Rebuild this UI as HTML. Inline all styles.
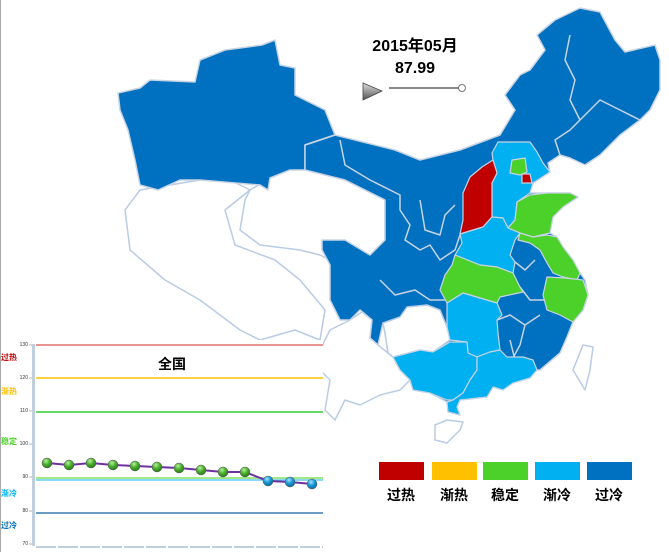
<!DOCTYPE html>
<html><head><meta charset="utf-8"><style>
body{margin:0;background:#fff;width:669px;height:552px;overflow:hidden;font-family:"Liberation Sans","Noto Sans CJK SC",sans-serif}
</style></head><body>
<svg width="669" height="552" viewBox="0 0 669 552" xmlns="http://www.w3.org/2000/svg" style="position:absolute;left:0;top:0">
<defs>
<radialGradient id="gg" cx="40%" cy="30%" r="70%"><stop offset="0" stop-color="#b8f0a0"/><stop offset="0.5" stop-color="#4cb030"/><stop offset="1" stop-color="#2a7a18"/></radialGradient>
<radialGradient id="bg" cx="40%" cy="30%" r="70%"><stop offset="0" stop-color="#a8e4ff"/><stop offset="0.5" stop-color="#1a9ad8"/><stop offset="1" stop-color="#0a6aa0"/></radialGradient>
<linearGradient id="tri" x1="0" y1="0" x2="0" y2="1"><stop offset="0" stop-color="#ddd"/><stop offset="1" stop-color="#555"/></linearGradient>
</defs>
<line x1="0.5" y1="0" x2="0.5" y2="552" stroke="#aaa"/>
<g stroke="#b8cce4" stroke-width="1.5" stroke-linejoin="round">
<path fill="#fff" d="M140,190 L125,210 L130,250 L165,280 L200,300 L240,330 L260,340 L295,330 L320,340 L325,310 L300,280 L275,260 L235,245 L225,210 L250,190 L230,180 L200,180 Z"/>
<path fill="#fff" d="M250,190 L270,178 L300,165 L345,180 L385,200 L385,240 L370,255 L340,265 L320,255 L300,250 L260,245 L240,230 L245,200 Z"/>
<path fill="#fff" d="M320,350 L330,330 L350,320 L362,312 L372,320 L370,338 L378,345 L388,353 L393,357 L400,370 L410,380 L400,390 L380,395 L360,405 L345,400 L335,420 L325,410 L330,380 L320,370 Z"/>
<path fill="#0070c0" stroke="#c8d4e4" d="M118,93 L140,88 L150,80 L195,82 L200,60 L225,50 L262,45 L275,40 L280,65 L295,68 L295,95 L325,110 L335,135 L305,145 L305,170 L290,170 L270,178 L268,190 L260,185 L200,180 L180,180 L158,190 L140,185 L135,160 L128,130 L120,110 Z"/>
<path fill="#0070c0" stroke="#c8d4e4" d="M335,135 L395,150 L420,160 L460,150 L500,135 L515,110 L505,95 L520,75 L530,70 L545,50 L537,35 L555,20 L580,8 L600,12 L615,40 L625,52 L655,45 L660,60 L660,90 L650,110 L640,120 L620,135 L600,155 L585,165 L570,158 L560,155 L548,163 L550,172 L533,183 L530,193 L547,193 L570,193 L578,197 L563,207 L553,217 L550,233 L557,237 L563,247 L573,260 L580,273 L585,280 L588,295 L583,310 L573,322 L567,337 L560,353 L540,370 L537,370 L530,378 L513,383 L503,390 L493,387 L487,397 L460,400 L457,407 L460,415 L448,412 L447,402 L430,393 L413,390 L410,380 L400,370 L393,357 L388,353 L385,333 L383,323 L378,345 L370,338 L372,320 L360,310 L350,320 L340,320 L330,300 L330,265 L322,250 L322,240 L345,240 L370,255 L385,240 L385,200 L345,180 L305,170 L305,145 Z"/>
<path fill="none" stroke="#c8d4e4" d="M305,145 L335,135 M340,140 L345,165 L370,180 L390,190 L400,195 L400,210 L410,225 L405,240 L420,250 L430,245 L440,260 L455,250 L460,235 M420,200 L425,230 L440,235 L445,215 L455,205 M560,155 L555,140 L570,130 L580,120 M580,120 L600,100 L620,110 L640,120 M580,120 L570,100 L575,80 L565,60 L570,35 M380,280 L395,295 L415,290 L430,300 L445,300 M520,287 L530,300 L545,300 M515,262 L525,270 L535,260 M497,320 L510,315 L525,325 L540,315 M510,340 L515,360 M525,325 L520,345 L513,358"/>
<path fill="#fff" d="M383,323 L400,317 L407,307 L427,305 L440,310 L447,327 L450,340 L433,352 L420,350 L393,357 L388,353 L385,333 Z"/>
<path fill="#fff" d="M435,425 L447,420 L463,422 L460,430 L447,443 L435,440 Z"/>
<path fill="#fff" d="M583,345 L593,347 L590,370 L585,390 L573,370 Z"/>
</g>
<g stroke="#c8d4e4" stroke-width="1.2" stroke-linejoin="round">
<path fill="#00b0f0" d="M492,153 L498,142 L513,142 L530,142 L537,152 L543,163 L550,172 L533,183 L530,193 L517,202 L515,220 L508,228 L503,218 L492,217 L492,183 L497,173 L493,160 Z"/>
<path fill="#4cd02a" d="M512,160 L525,158 L527,172 L520,175 L510,173 Z"/>
<path fill="#c00000" d="M522,174 L530,174 L532,183 L522,183 Z"/>
<path fill="#c00000" d="M493,160 L497,173 L492,183 L492,217 L483,227 L460,234 L463,220 L463,193 L470,177 L482,167 Z"/>
<path fill="#4cd02a" d="M517,202 L530,195 L547,193 L570,193 L578,197 L563,207 L553,217 L550,233 L533,237 L520,233 L508,228 L515,220 Z"/>
<path fill="#00b0f0" d="M460,234 L483,227 L492,217 L503,218 L508,228 L520,233 L515,240 L510,255 L515,262 L513,273 L497,267 L480,265 L455,255 L462,243 Z"/>
<path fill="#4cd02a" d="M520,233 L533,237 L547,235 L557,237 L563,247 L573,260 L580,273 L577,280 L563,277 L553,273 L547,263 L540,250 L530,243 L518,240 Z"/>
<path fill="#4cd02a" d="M455,255 L480,265 L497,267 L513,273 L520,287 L523,292 L500,297 L497,303 L463,293 L447,303 L440,290 L445,275 L452,265 Z"/>
<path fill="#4cd02a" d="M547,277 L565,278 L583,280 L588,295 L583,310 L573,322 L560,315 L547,310 L543,295 Z"/>
<path fill="#00b0f0" d="M447,303 L463,293 L497,303 L502,315 L497,320 L498,333 L500,350 L490,352 L477,357 L468,353 L467,342 L450,340 L447,327 Z"/>
<path fill="#00b0f0" d="M393,357 L420,350 L433,352 L450,342 L467,342 L468,353 L477,357 L477,370 L470,380 L463,393 L453,400 L447,400 L430,393 L413,390 L410,380 L400,370 Z"/>
<path fill="#00b0f0" d="M477,357 L490,352 L500,350 L507,357 L523,357 L533,360 L537,370 L530,378 L513,383 L503,390 L493,387 L487,397 L460,400 L457,407 L460,415 L448,412 L447,402 L453,400 L463,393 L470,380 L477,370 Z"/>
</g>
<text x="415" y="51" text-anchor="middle" font-size="16" font-weight="bold" fill="#000">2015年05月</text>
<text x="415" y="73" text-anchor="middle" font-size="16" font-weight="bold" fill="#000">87.99</text>
<path d="M363,83 L382,91 L363,100 Z" fill="url(#tri)" stroke="#444" stroke-width="0.8"/>
<line x1="389" y1="88" x2="460" y2="88" stroke="#888" stroke-width="2"/>
<circle cx="462" cy="88" r="3.5" fill="#fff" stroke="#777"/>
<rect x="1" y="340" width="322" height="210" fill="#fff"/>
<line x1="36" y1="345" x2="323" y2="345" stroke="#e07070" stroke-width="1.5"/>
<line x1="36" y1="378" x2="323" y2="378" stroke="#ffc000" stroke-width="1.5"/>
<line x1="36" y1="412" x2="323" y2="412" stroke="#33cc33" stroke-width="1.5"/>
<line x1="36" y1="478" x2="323" y2="478" stroke="#80e060" stroke-width="1.5"/>
<line x1="36" y1="480" x2="323" y2="480" stroke="#40c0f0" stroke-width="1.2"/>
<line x1="36" y1="513" x2="323" y2="513" stroke="#1060a0" stroke-width="1.2"/>
<rect x="32" y="344" width="3" height="202" fill="#c0cfdc"/>
<g stroke="#c0cfdc" stroke-width="1.5">
<line x1="29" y1="345" x2="32" y2="345"/><line x1="29" y1="378" x2="32" y2="378"/><line x1="29" y1="411" x2="32" y2="411"/><line x1="29" y1="444" x2="32" y2="444"/><line x1="29" y1="477" x2="32" y2="477"/><line x1="29" y1="511" x2="32" y2="511"/><line x1="29" y1="544" x2="32" y2="544"/>
</g>
<g stroke="#c0cfdc" stroke-width="2" stroke-dasharray="20,2"><line x1="36" y1="547" x2="323" y2="547"/></g>
<g font-size="5" fill="#333" text-anchor="end"><text x="28" y="346">130</text><text x="28" y="379">120</text><text x="28" y="412">110</text><text x="28" y="445">100</text><text x="28" y="478">90</text><text x="28" y="512">80</text><text x="28" y="545">70</text></g>
<g font-size="8" font-weight="bold"><text x="1" y="360" fill="#c00000">过热</text><text x="1" y="394" fill="#ffc000">渐热</text><text x="1" y="444" fill="#4cd02a">稳定</text><text x="1" y="496" fill="#00b0f0">渐冷</text><text x="1" y="528" fill="#0070c0">过冷</text></g>
<text x="172" y="369" text-anchor="middle" font-size="14" font-weight="bold">全国</text>
<polyline fill="none" stroke="#7030a0" stroke-width="2" points="47,463 69,465 91,463 113,465 135,466 157,467 179,468 201,470 223,472 245,472 268,481 290,482 312,484"/>
<g stroke="#555" stroke-width="0.5">
<circle cx="47" cy="463" r="5" fill="url(#gg)"/><circle cx="69" cy="465" r="5" fill="url(#gg)"/><circle cx="91" cy="463" r="5" fill="url(#gg)"/><circle cx="113" cy="465" r="5" fill="url(#gg)"/><circle cx="135" cy="466" r="5" fill="url(#gg)"/><circle cx="157" cy="467" r="5" fill="url(#gg)"/><circle cx="179" cy="468" r="5" fill="url(#gg)"/><circle cx="201" cy="470" r="5" fill="url(#gg)"/><circle cx="223" cy="472" r="5" fill="url(#gg)"/><circle cx="245" cy="472" r="5" fill="url(#gg)"/>
<circle cx="268" cy="481" r="5" fill="url(#bg)"/><circle cx="290" cy="482" r="5" fill="url(#bg)"/><circle cx="312" cy="484" r="5" fill="url(#bg)"/>
</g>
<rect x="379" y="462" width="45" height="18" fill="#c00000"/>
<rect x="432" y="462" width="45" height="18" fill="#ffc000"/>
<rect x="483" y="462" width="45" height="18" fill="#4cd02a"/>
<rect x="535" y="462" width="45" height="18" fill="#00b0f0"/>
<rect x="587" y="462" width="45" height="18" fill="#0070c0"/>
<g font-size="14" font-weight="bold" text-anchor="middle" fill="#000"><text x="401" y="500">过热</text><text x="454" y="500">渐热</text><text x="505" y="500">稳定</text><text x="557" y="500">渐冷</text><text x="609" y="500">过冷</text></g>
</svg>
</body></html>
